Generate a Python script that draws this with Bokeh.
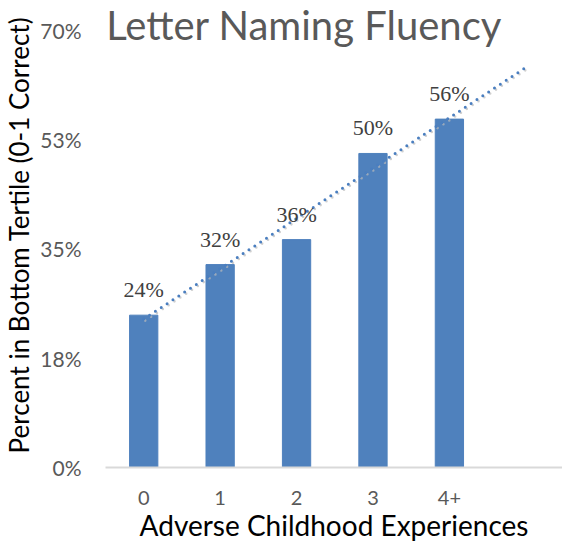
import numpy as np
from bokeh.plotting import figure
from bokeh.models import ColumnDataSource, FixedTicker, Label, LabelSet, Range1d
from bokeh.embed import file_html
from bokeh.resources import INLINE

# ---- data ----
categories = ["0", "1", "2", "3", "4+"]
percent_values = [24.4, 32.5, 36.5, 50.3, 55.8]
y_ticks = [0, 17.5, 35, 52.5, 70]
y_tick_labels = ["0%", "18%", "35%", "53%", "70%"]
title_text = "Letter Naming Fluency"
x_title = "Adverse Childhood Experiences"
y_title = "Percent in Bottom Tertile (0-1 Correct)"

FONT = "Lato"
BAR = "#4F81BD"
GREY = "#595959"

xs = list(range(len(categories)))
labels = [f"{round(v)}%" for v in percent_values]
src = ColumnDataSource(dict(x=xs, y=percent_values, lab=labels))

# linear trendline with one period forward forecast
slope, intercept = np.polyfit(xs, percent_values, 1)
tx = [xs[0], xs[-1] + 1]
ty = [intercept + slope * t for t in tx]

p = figure(width=562, height=546, output_backend="svg", toolbar_location=None,
           x_range=Range1d(-0.5, 5.48), y_range=Range1d(0, 74.48),
           min_border_left=104, min_border_right=0, min_border_top=2,
           min_border_bottom=79)
p.outline_line_color = None
p.grid.grid_line_color = None

p.vbar(x="x", top="y", width=0.37, source=src, fill_color=BAR, line_color=BAR)

# trendline shadow + line
p.line([t + 0.02 for t in tx], [v - 0.25 for v in ty], line_color="#BBBBBB",
       line_width=2.6, line_dash="0 7", line_cap="round", line_alpha=0.7)
p.line(tx, ty, line_color="#4A7EBF", line_width=3, line_dash="0 7", line_cap="round")

p.add_layout(LabelSet(x="x", y="y", text="lab", source=src, text_align="center",
                      text_baseline="alphabetic", y_offset=18, text_font=FONT,
                      text_font_size="22px", text_color="#404040"))

p.add_layout(Label(x=2.1, y=70, y_offset=5, text=title_text, text_align="center",
                   text_baseline="alphabetic", text_font=FONT, text_font_size="40px",
                   text_color=GREY))

# axes
p.yaxis.ticker = FixedTicker(ticks=y_ticks)
p.yaxis.major_label_overrides = {t: l for t, l in zip(y_ticks, y_tick_labels)}
p.yaxis.axis_line_color = None
p.yaxis.major_tick_line_color = None
p.yaxis.minor_tick_line_color = None
p.yaxis.major_tick_out = 0
p.yaxis.major_tick_in = 0
p.yaxis.major_label_standoff = 24
p.yaxis.major_label_text_font = FONT
p.yaxis.major_label_text_font_size = "21px"
p.yaxis.major_label_text_color = GREY
p.yaxis.axis_label = y_title
p.yaxis.axis_label_text_font = FONT
p.yaxis.axis_label_text_font_size = "26px"
p.yaxis.axis_label_text_font_style = "normal"
p.yaxis.axis_label_text_color = "#000000"
p.yaxis.axis_label_standoff = 2

p.xaxis.ticker = FixedTicker(ticks=xs)
p.xaxis.major_label_overrides = {i: c for i, c in enumerate(categories)}
p.xaxis.axis_line_color = "#D9D9D9"
p.xaxis.axis_line_width = 2
p.xaxis.major_tick_line_color = None
p.xaxis.minor_tick_line_color = None
p.xaxis.major_tick_out = 0
p.xaxis.major_tick_in = 0
p.xaxis.major_label_standoff = 23
p.xaxis.major_label_text_font = FONT
p.xaxis.major_label_text_font_size = "20px"
p.xaxis.major_label_text_color = GREY
p.xaxis.axis_label = x_title
p.xaxis.axis_label_text_font = FONT
p.xaxis.axis_label_text_font_size = "28px"
p.xaxis.axis_label_text_font_style = "normal"
p.xaxis.axis_label_text_color = "#000000"
p.xaxis.axis_label_standoff = 0

open("out.html", "w").write(file_html(p, INLINE))
